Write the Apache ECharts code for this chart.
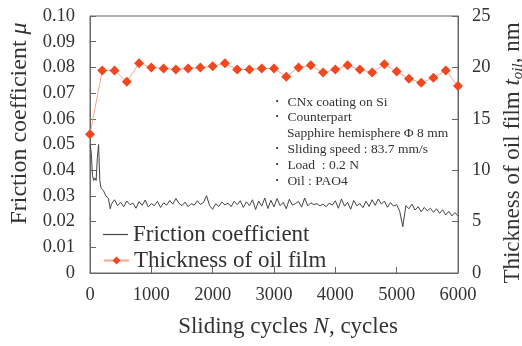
<!DOCTYPE html>
<html>
<head>
<meta charset="utf-8">
<script src="https://cdn.jsdelivr.net/npm/echarts@6/dist/echarts.min.js"></script>
<style>html,body{margin:0;padding:0;background:#fff}#c{width:522px;height:346px}</style>
</head>
<body>
<div id="c"></div>
<script>
// ---- data ----
var xTicks = [0, 1000, 2000, 3000, 4000, 5000, 6000];
var leftTicks = [0, 0.01, 0.02, 0.03, 0.04, 0.05, 0.06, 0.07, 0.08, 0.09, 0.10];
var rightTicks = [0, 5, 10, 15, 20, 25];

var thicknessCycles = [0,200,400,600,800,1000,1200,1400,1600,1800,2000,2200,2400,2600,2800,3000,3200,3400,3600,3800,4000,4200,4400,4600,4800,5000,5200,5400,5600,5800,6000];
var thicknessValues = [13.5,19.7,19.7,18.6,20.4,20.0,19.9,19.8,19.9,20.0,20.1,20.4,19.8,19.8,19.9,19.9,19.1,20.0,20.2,19.5,19.8,20.2,19.8,19.5,20.3,19.6,18.9,18.5,19.0,19.7,18.2];

var frictionStartCycles = [0,20,40,60,80,100,120,140,160,180,220,260,300,330];
var frictionStartValues = [0.050,0.047,0.038,0.036,0.037,0.036,0.045,0.050,0.036,0.033,0.032,0.030,0.029,0.025];
// values every 50 cycles from 350 to 6000
var frictionValues = [
0.0268,0.0285,0.0262,0.0275,0.0258,0.0280,0.0266,0.0272,0.0252,0.0278,
0.0263,0.0284,0.0257,0.0270,0.0262,0.0279,0.0255,0.0273,0.0264,0.0282,
0.0268,0.0290,0.0271,0.0262,0.0276,0.0258,0.0270,0.0264,0.0281,0.0267,
0.0274,0.0301,0.0262,0.0248,0.0270,0.0259,0.0276,0.0265,0.0272,0.0258,
0.0279,0.0266,0.0281,0.0255,0.0277,0.0262,0.0285,0.0247,0.0280,0.0260,
0.0292,0.0251,0.0283,0.0257,0.0290,0.0262,0.0275,0.0250,0.0287,0.0264,
0.0270,0.0279,0.0256,0.0292,0.0261,0.0273,0.0266,0.0270,0.0261,0.0268,
0.0258,0.0272,0.0264,0.0281,0.0252,0.0288,0.0260,0.0275,0.0248,0.0282,
0.0262,0.0270,0.0254,0.0279,0.0259,0.0285,0.0263,0.0288,0.0268,0.0280,
0.0256,0.0274,0.0260,0.0266,0.0240,0.0180,0.0262,0.0250,0.0268,0.0245,
0.0258,0.0238,0.0255,0.0242,0.0252,0.0236,0.0250,0.0232,0.0246,0.0226,
0.0240,0.0222,0.0235,0.0222
];
var frictionStep = 50, frictionFirst = 350;

var notes = ['\u30FB CNx coating on Si','\u30FB Counterpart','     Sapphire hemisphere \u03A6 8 mm','\u30FB Sliding speed : 83.7 mm/s','\u30FB Load  : 0.2 N','\u30FB Oil : PAO4'];

// ---- build ----
var frictionData = [];
for (var i = 0; i < frictionStartCycles.length; i++) frictionData.push([frictionStartCycles[i], frictionStartValues[i]]);
for (var j = 0; j < frictionValues.length; j++) frictionData.push([frictionFirst + j * frictionStep, frictionValues[j]]);
var thicknessData = thicknessCycles.map(function (c, k) { return [c, thicknessValues[k]]; });

var FONT = 'Liberation Serif';
var TXT = '#333';
var chart = echarts.init(document.getElementById('c'), null, { renderer: 'canvas' });
chart.setOption({
  animation: false,
  backgroundColor: '#fff',
  textStyle: { fontFamily: FONT },
  grid: { left: 90, right: 64, top: 16, bottom: 73, show: true, borderColor: '#666', borderWidth: 1,
          containLabel: false, outerBoundsMode: 'none' },
  xAxis: {
    type: 'value', min: 0, max: 6000, interval: 1000,
    axisLine: { show: true, lineStyle: { color: '#666' } },
    axisTick: { show: true, inside: true, length: 6, lineStyle: { color: '#666' } },
    splitLine: { show: false },
    axisLabel: { fontFamily: FONT, fontSize: 18.5, color: TXT, margin: 13,
      formatter: function (v) { return xTicks.indexOf(v) >= 0 ? String(v) : ''; } },
    name: 'Sliding cycles {i|N}, cycles', nameLocation: 'middle', nameGap: 42,
    nameTextStyle: { fontFamily: FONT, fontSize: 23, color: TXT, padding: [0, 0, 0, 28],
      rich: { i: { fontFamily: FONT, fontSize: 23, fontStyle: 'italic', color: TXT } } }
  },
  yAxis: [{
    type: 'value', min: 0, max: 0.10, interval: 0.01,
    axisLine: { show: true, lineStyle: { color: '#666' } },
    axisTick: { show: true, inside: true, length: 6, lineStyle: { color: '#666' } },
    splitLine: { show: false },
    axisLabel: { fontFamily: FONT, fontSize: 18.5, color: TXT, margin: 15,
      formatter: function (v) { var r = Math.round(v * 100) / 100; return r === 0 ? '0' : r.toFixed(2); } },
    name: 'Friction coefficient {i|\u03BC}', nameLocation: 'middle', nameGap: 58, nameRotate: 90,
    nameTextStyle: { fontFamily: FONT, fontSize: 24, color: TXT, padding: [0, 0, 0, 42],
      rich: { i: { fontFamily: FONT, fontSize: 24, fontStyle: 'italic', color: TXT } } }
  }, {
    type: 'value', min: 0, max: 25, interval: 5, position: 'right',
    axisLine: { show: true, lineStyle: { color: '#666' } },
    axisTick: { show: true, inside: true, length: 6, lineStyle: { color: '#666' } },
    splitLine: { show: false },
    axisLabel: { fontFamily: FONT, fontSize: 18.5, color: TXT, margin: 14 },
    name: 'Thickness of oil film {i|t}{s|oil}, nm', nameLocation: 'middle', nameGap: 35, nameRotate: 90,
    nameTextStyle: { fontFamily: FONT, fontSize: 23, color: TXT, padding: [0, 17, 0, 0],
      rich: { i: { fontFamily: FONT, fontSize: 23, fontStyle: 'italic', color: TXT },
              s: { fontFamily: FONT, fontSize: 15, fontStyle: 'italic', color: TXT, padding: [10, 0, 0, 0] } } }
  }],
  legend: [{
    left: 98, top: 218, itemWidth: 25, itemHeight: 1.2, icon: 'rect',
    textStyle: { fontFamily: FONT, fontSize: 23, color: TXT },
    data: ['Friction coefficient']
  }, {
    left: 98, top: 244, itemWidth: 25, itemHeight: 10,
    textStyle: { fontFamily: FONT, fontSize: 23, color: TXT },
    data: ['Thickness of oil film']
  }],
  graphic: notes.map(function (t, k) {
    return { type: 'text', left: 270, top: 95 + k * 15.8,
      style: { text: t, font: '13.5px "Liberation Serif"', fill: TXT } };
  }),
  series: [{
    name: 'Friction coefficient', type: 'line', yAxisIndex: 0, data: frictionData,
    showSymbol: false, symbol: 'none', lineStyle: { color: '#444', width: 1 }, itemStyle: { color: '#444' }
  }, {
    name: 'Thickness of oil film', type: 'line', yAxisIndex: 1, data: thicknessData,
    symbol: 'diamond', symbolSize: 10,
    lineStyle: { color: '#f7a58f', width: 1 }, itemStyle: { color: '#f0471f' }
  }]
});
</script>
</body>
</html>
